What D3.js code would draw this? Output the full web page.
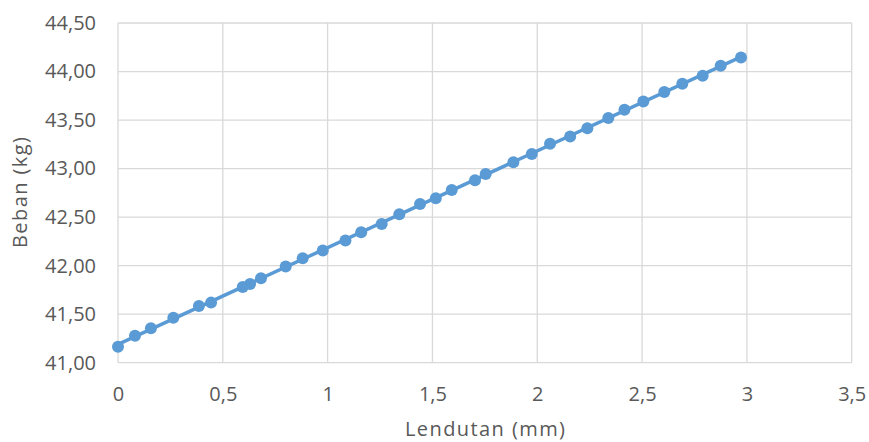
<!DOCTYPE html>
<html><head><meta charset="utf-8">
<script src="https://cdn.jsdelivr.net/npm/d3@7"></script>
<style>body{margin:0;background:#fff}svg{display:block}text{font-family:"Open Sans",sans-serif;fill:#595959}</style>
</head><body>
<svg id="c" width="869" height="442"></svg>
<script>
const lendutan = [0, 0.081, 0.157, 0.264, 0.386, 0.444, 0.595, 0.630, 0.682, 0.800, 0.881, 0.977, 1.085, 1.160, 1.258, 1.342, 1.441, 1.516, 1.592, 1.703, 1.754, 1.886, 1.974, 2.061, 2.157, 2.239, 2.339, 2.416, 2.506, 2.606, 2.692, 2.789, 2.875, 2.972];
const beban = [41.165, 41.278, 41.355, 41.464, 41.585, 41.619, 41.78, 41.81, 41.87, 41.99, 42.076, 42.155, 42.258, 42.345, 42.43, 42.53, 42.636, 42.695, 42.78, 42.88, 42.945, 43.066, 43.15, 43.255, 43.33, 43.416, 43.522, 43.605, 43.69, 43.79, 43.873, 43.956, 44.06, 44.144];
const xTicks = [0, 0.5, 1, 1.5, 2, 2.5, 3, 3.5];
const yTicks = [41, 41.5, 42, 42.5, 43, 43.5, 44, 44.5];
const xTitle = "Lendutan (mm)";
const yTitle = "Beban (kg)";

const svg = d3.select("#c");
const L = 118, R = 851.7, T = 23, B = 362.7;
const x = d3.scaleLinear().domain([0, 3.5]).range([L, R]);
const y = d3.scaleLinear().domain([41, 44.5]).range([B, T]);
const fmtX = v => String(v).replace(".", ",");
const fmtY = v => v.toFixed(2).replace(".", ",");
const grid = "#d9d9d9";
const FS = 20;

// gridlines
svg.append("g").selectAll("line").data(xTicks).join("line")
  .attr("x1", d => x(d)).attr("x2", d => x(d)).attr("y1", T).attr("y2", B)
  .attr("stroke", grid).attr("stroke-width", 1.3);
svg.append("g").selectAll("line").data(yTicks).join("line")
  .attr("x1", L).attr("x2", R).attr("y1", d => y(d)).attr("y2", d => y(d))
  .attr("stroke", grid).attr("stroke-width", 1.3);

// axes (labels only)
const xa = svg.append("g").attr("transform", `translate(0,${B})`)
  .call(d3.axisBottom(x).tickValues(xTicks).tickFormat(fmtX).tickSize(0).tickPadding(24));
const ya = svg.append("g").attr("transform", `translate(${L},0)`)
  .call(d3.axisLeft(y).tickValues(yTicks).tickFormat(fmtY).tickSize(0).tickPadding(22));
[xa, ya].forEach(a => {
  a.select(".domain").remove();
  a.selectAll("text").attr("font-size", FS).attr("font-family", "Open Sans").attr("fill", "#595959");
});

// trendline (linear fit of the data)
const n = lendutan.length;
const mx = d3.mean(lendutan), my = d3.mean(beban);
const slope = d3.sum(lendutan, (v, i) => (v - mx) * (beban[i] - my)) / d3.sum(lendutan, v => (v - mx) ** 2);
const icpt = my - slope * mx;
const x0 = lendutan[0], x1 = lendutan[n - 1];
svg.append("path")
  .attr("d", d3.line()([[x(x0), y(icpt + slope * x0)], [x(x1), y(icpt + slope * x1)]]))
  .attr("stroke", "#5B9BD5").attr("stroke-width", 3.5).attr("fill", "none");

svg.append("g").selectAll("circle").data(lendutan).join("circle")
  .attr("cx", d => x(d)).attr("cy", (d, i) => y(beban[i])).attr("r", 6)
  .attr("fill", "#5B9BD5");

svg.append("text").attr("x", 485).attr("y", 436).attr("text-anchor", "middle")
  .attr("font-size", FS).attr("textLength", 160).attr("lengthAdjust", "spacing").text(xTitle);
svg.append("text").attr("transform", `translate(27,192.5) rotate(-90)`)
  .attr("text-anchor", "middle").attr("font-size", FS).attr("textLength", 111).attr("lengthAdjust", "spacing").text(yTitle);
</script>
</body></html>
